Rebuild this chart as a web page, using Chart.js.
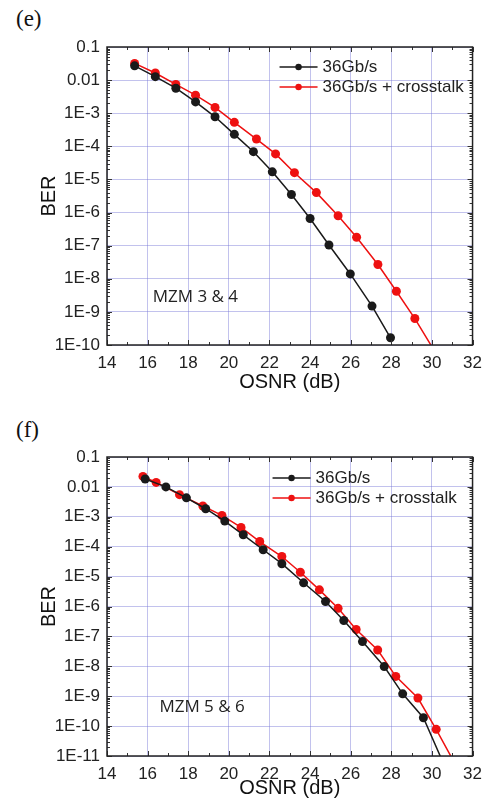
<!DOCTYPE html>
<html lang="en">
<head>
<meta charset="UTF-8">
<title>BER vs OSNR</title>
<script src="https://cdn.jsdelivr.net/npm/chart.js"></script>
<style>
  body { margin: 0; background: #fff; width: 490px; height: 808px; overflow: hidden; }
  .panel { position: absolute; left: 0; width: 490px; }
  .tag { position: absolute; left: 16px; font-family: 'Liberation Serif', 'Times New Roman', serif; font-size: 23px; color: #111; }
</style>
</head>
<body>
<div class="tag" style="top:6px">(e)</div>
<div class="panel" style="top:0;height:400px"><canvas id="chartE"></canvas></div>
<div class="tag" style="top:417px">(f)</div>
<div class="panel" style="top:400px;height:408px"><canvas id="chartF"></canvas></div>
<script>
// MZM 3 & 4
const osnrE_b = [15.36, 16.38, 17.39, 18.36, 19.32, 20.27, 21.21, 22.14, 23.08, 24.0, 24.93, 25.98, 27.05, 27.96];
const berE_b  = [0.027, 0.0127, 0.0057, 0.0022, 7.8e-4, 2.3e-4, 6.9e-5, 1.7e-5, 3.5e-6, 6.6e-7, 1.05e-7, 1.4e-8, 1.5e-9, 1.65e-10];
const osnrE_r = [15.36, 16.38, 17.39, 18.36, 19.32, 20.27, 21.36, 22.3, 23.23, 24.31, 25.38, 26.29, 27.34, 28.25, 29.16, 30.1];
const berE_r  = [0.032, 0.0164, 0.0074, 0.0035, 0.0015, 5.3e-4, 1.66e-4, 5.9e-5, 1.6e-5, 4e-6, 8e-7, 1.8e-7, 2.7e-8, 4.2e-9, 6.3e-10, 7e-11];

// MZM 5 & 6
const osnrF_b = [15.88, 16.9, 17.91, 18.86, 19.8, 20.71, 21.69, 22.61, 23.68, 24.76, 25.66, 26.58, 27.65, 28.56, 29.58, 30.55];
const berF_b  = [0.0183, 0.01, 0.0043, 0.00186, 7.2e-4, 2.5e-4, 7.9e-5, 2.7e-5, 6.2e-6, 1.47e-6, 3.4e-7, 6.7e-8, 9.8e-9, 1.2e-9, 1.9e-10, 6e-12];
const osnrF_r = [15.77, 16.42, 17.57, 18.72, 19.66, 20.6, 21.52, 22.61, 23.52, 24.46, 25.38, 26.27, 27.33, 28.22, 29.31, 30.21, 31.05];
const berF_r  = [0.0224, 0.0141, 0.0055, 0.0023, 0.00111, 4.4e-4, 1.49e-4, 4.7e-5, 1.4e-5, 3.6e-6, 8.7e-7, 1.7e-7, 3.5e-8, 4.6e-9, 8.7e-10, 7.8e-11, 7e-12];

const seriesNames = ['36Gb/s', '36Gb/s + crosstalk'];
const berTicksE = [0.1, 0.01, 1e-3, 1e-4, 1e-5, 1e-6, 1e-7, 1e-8, 1e-9, 1e-10];
const berTicksF = [0.1, 0.01, 1e-3, 1e-4, 1e-5, 1e-6, 1e-7, 1e-8, 1e-9, 1e-10, 1e-11];

const SANS = "'Liberation Sans', Arial, sans-serif";
const BLACK = '#1a1a1a';
const RED = '#ee1111';
const GRID = 'rgba(120,120,215,0.45)';

function berLabel(v) {
    const e = Math.round(Math.log10(v));
    if (e === -1) return '0.1';
    if (e === -2) return '0.01';
    return '1E' + e;
}

function pts(xs, ys) {
    return xs.map((x, i) => ({ x: x, y: ys[i] }));
}

// frame round the plot with inward ticks on all four sides
const frameTicks = {
    id: 'frameTicks',
    afterDatasetsDraw(chart) {
        const { ctx, chartArea: a, scales: { x, y } } = chart;
        ctx.save();
        ctx.strokeStyle = '#333';
        ctx.lineWidth = 1;
        ctx.beginPath();
        for (let v = Math.ceil(x.min); v <= x.max; v++) {
            const px = Math.round(x.getPixelForValue(v)) + 0.5;
            const len = v % 2 === 0 ? 5 : 3;
            ctx.moveTo(px, a.bottom); ctx.lineTo(px, a.bottom - len);
            ctx.moveTo(px, a.top); ctx.lineTo(px, a.top + len);
        }
        const lo = Math.round(Math.log10(y.min)), hi = Math.round(Math.log10(y.max));
        for (let e = lo; e < hi; e++) {
            for (let k = 1; k <= 9; k++) {
                const py = Math.round(y.getPixelForValue(k * Math.pow(10, e))) + 0.5;
                const len = k === 1 ? 5 : 3;
                ctx.moveTo(a.left, py); ctx.lineTo(a.left + len, py);
                ctx.moveTo(a.right, py); ctx.lineTo(a.right - len, py);
            }
        }
        ctx.stroke();
        ctx.lineWidth = 1.5;
        ctx.strokeStyle = '#222';
        ctx.strokeRect(a.left, a.top, a.width, a.height);
        ctx.restore();
    }
};

// legend drawn inside the plot, line - dot - line samples
const insideLegend = {
    id: 'insideLegend',
    afterDraw(chart, args, opts) {
        const { ctx, chartArea: a } = chart;
        ctx.save();
        ctx.font = '17px ' + SANS;
        ctx.textBaseline = 'middle';
        chart.data.datasets.forEach((ds, i) => {
            const yy = a.top + opts.y + i * opts.gap;
            const x0 = a.right - opts.x;
            ctx.strokeStyle = ds.borderColor;
            ctx.lineWidth = 1.5;
            ctx.beginPath();
            ctx.moveTo(x0, yy); ctx.lineTo(x0 + 38, yy);
            ctx.stroke();
            ctx.fillStyle = ds.borderColor;
            ctx.beginPath();
            ctx.arc(x0 + 19, yy, 3.2, 0, Math.PI * 2);
            ctx.fill();
            ctx.fillStyle = '#222';
            ctx.fillText(ds.label, x0 + 43, yy);
        });
        ctx.restore();
    }
};

// device label placed in data coordinates
const noteLabel = {
    id: 'noteLabel',
    afterDraw(chart, args, opts) {
        const { ctx, scales: { x, y } } = chart;
        ctx.save();
        ctx.font = "17px 'Open Sans', sans-serif";
        ctx.fillStyle = '#222';
        ctx.textBaseline = 'middle';
        ctx.fillText(opts.text, x.getPixelForValue(opts.x), y.getPixelForValue(opts.y));
        ctx.restore();
    }
};

function makeChart(id, sets, cfg) {
    const datasets = sets.map((s, i) => ({
        label: seriesNames[i],
        data: pts(s[0], s[1]),
        borderColor: s[2],
        backgroundColor: s[2],
        borderWidth: 1.5,
        pointRadius: 4.5,
        pointBorderWidth: 0,
        pointBackgroundColor: s[2],
        clip: 0
    }));
    return new Chart(document.getElementById(id), {
        type: 'line',
        data: { datasets: datasets },
        plugins: [frameTicks, insideLegend, noteLabel],
        options: {
            responsive: true,
            maintainAspectRatio: false,
            animation: false,
            layout: { padding: { top: cfg.top, right: 13, bottom: 0, left: 0 } },
            plugins: {
                legend: { display: false },
                tooltip: { enabled: false },
                insideLegend: cfg.legend,
                noteLabel: cfg.note
            },
            scales: {
                x: {
                    type: 'linear',
                    min: 14, max: 32,
                    ticks: { stepSize: 2, padding: 8, color: '#222', font: { family: SANS, size: 17 } },
                    grid: { color: GRID, drawTicks: false },
                    border: { display: false },
                    title: { display: true, text: 'OSNR (dB)', color: '#111', font: { family: SANS, size: 20 }, padding: { top: 0, bottom: cfg.titleBottom } },
                    afterFit: s => { s.height = cfg.xHeight; }
                },
                y: {
                    type: 'logarithmic',
                    min: cfg.ticks[cfg.ticks.length - 1], max: cfg.ticks[0],
                    afterBuildTicks: s => { s.ticks = cfg.ticks.map(v => ({ value: v })); },
                    ticks: { padding: 7, color: '#222', font: { family: SANS, size: 17 }, callback: v => berLabel(v) },
                    grid: { color: GRID, drawTicks: false },
                    border: { display: false },
                    title: { display: true, text: 'BER', color: '#111', font: { family: SANS, size: 20 }, padding: { top: 37, bottom: 0 } },
                    afterFit: s => { s.width = 107; }
                }
            }
        }
    });
}

makeChart('chartE', [[osnrE_b, berE_b, BLACK], [osnrE_r, berE_r, RED]], {
    top: 47, xHeight: 55, titleBottom: 6, ticks: berTicksE,
    legend: { x: 193, y: 20, gap: 20 },
    note: { text: 'MZM 3 & 4', x: 16.25, y: 2.8e-9 }
});

makeChart('chartF', [[osnrF_b, berF_b, BLACK], [osnrF_r, berF_r, RED]], {
    top: 57, xHeight: 52, titleBottom: 8, ticks: berTicksF,
    legend: { x: 200, y: 21, gap: 20 },
    note: { text: 'MZM 5 & 6', x: 16.58, y: 4.4e-10 }
});
</script>
</body>
</html>
